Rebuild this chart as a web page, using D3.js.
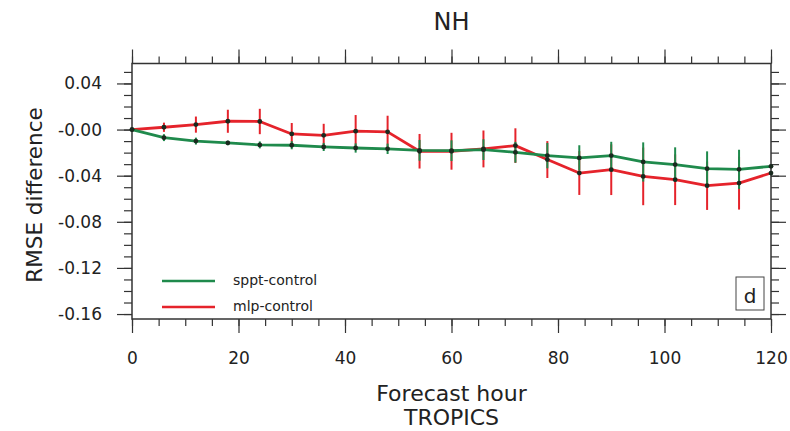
<!DOCTYPE html>
<html>
<head>
<meta charset="utf-8">
<script src="https://cdn.jsdelivr.net/npm/d3@7"></script>
<style>
  body { margin: 0; background: #fff; }
  text { font-family: "DejaVu Sans", "Liberation Sans", Arial, sans-serif; fill: #222; }
</style>
</head>
<body>
<div id="chart"></div>
<script>
// Forecast hours
const hours = [0, 6, 12, 18, 24, 30, 36, 42, 48, 54, 60, 66, 72, 78, 84, 90, 96, 102, 108, 114, 120];

// sppt-control
const spptVals = [0, -0.007, -0.010, -0.0116, -0.0133, -0.0136, -0.0151, -0.016, -0.0167, -0.018, -0.0183,
    -0.0174, -0.0197, -0.0226, -0.0246, -0.0226, -0.0281, -0.0304, -0.0339, -0.0345, -0.0319];
const spptErr = [0, 0.003, 0.003, 0.002, 0.003, 0.0035, 0.0035, 0.004, 0.0045, 0.009, 0.009,
    0.009, 0.009, 0.011, 0.011, 0.012, 0.017, 0.015, 0.015, 0.017, 0];

// mlp-control
const mlpVals = [0, 0.002, 0.0043, 0.0072, 0.007, -0.0038, -0.005, -0.0014, -0.002, -0.0188, -0.0188,
    -0.0168, -0.0139, -0.026, -0.0377, -0.0348, -0.0406, -0.0435, -0.0487, -0.0464, -0.0377];
const mlpErr = [0, 0.004, 0.007, 0.010, 0.011, 0.0095, 0.010, 0.014, 0.014, 0.015, 0.016,
    0.016, 0.015, 0.016, 0.019, 0.022, 0.025, 0.022, 0.021, 0.023, 0];

// Ticks
const xTicks = [0, 20, 40, 60, 80, 100, 120];
const yTicks = [0.04, 0, -0.04, -0.08, -0.12, -0.16];
const yTickLabels = ['0.04', '-0.00', '-0.04', '-0.08', '-0.12', '-0.16'];

const seriesNames = ['sppt-control', 'mlp-control'];
const seriesColors = ['#1f8a4c', '#e5232b'];

// Dimensions
const dimensions = {
    width: 790,
    height: 431,
    left: 132,
    right: 771,
    top: 63.5,
    bottom: 319
};

const xScale = d3.scaleLinear().domain([0, 120]).range([dimensions.left, dimensions.right]);
const yScale = d3.scaleLinear().domain([-0.1643, 0.0573]).range([dimensions.bottom, dimensions.top]);

const svg = d3.select('#chart')
    .append('svg')
    .attr('width', dimensions.width)
    .attr('height', dimensions.height);

const minorX = d3.range(0, 121, 5);
const minorY = d3.range(-16, 6).map(d => d / 100);

// Axes: ticks point outward on all four sides
function tickAxis(axisFn, scale, values, size, pad, fmt) {
    return axisFn(scale).tickValues(values).tickSize(size).tickPadding(pad).tickFormat(fmt);
}

const axes = svg.append('g').attr('class', 'axes');

// minor ticks
axes.append('g').attr('transform', `translate(0,${dimensions.bottom})`)
    .call(tickAxis(d3.axisBottom, xScale, minorX, 7, 0, () => ''));
axes.append('g').attr('transform', `translate(0,${dimensions.top})`)
    .call(tickAxis(d3.axisTop, xScale, minorX, 7, 0, () => ''));
axes.append('g').attr('transform', `translate(${dimensions.left},0)`)
    .call(tickAxis(d3.axisLeft, yScale, minorY, 8, 0, () => ''));
axes.append('g').attr('transform', `translate(${dimensions.right},0)`)
    .call(tickAxis(d3.axisRight, yScale, minorY, 8, 0, () => ''));

// major ticks
axes.append('g').attr('class', 'x-major').attr('transform', `translate(0,${dimensions.bottom})`)
    .call(tickAxis(d3.axisBottom, xScale, xTicks, 14, 19, d => d));
axes.append('g').attr('transform', `translate(0,${dimensions.top})`)
    .call(tickAxis(d3.axisTop, xScale, xTicks, 14, 0, () => ''));
axes.append('g').attr('class', 'y-major').attr('transform', `translate(${dimensions.left},0)`)
    .call(tickAxis(d3.axisLeft, yScale, yTicks, 15, 15, (d, i) => yTickLabels[i]));
axes.append('g').attr('transform', `translate(${dimensions.right},0)`)
    .call(tickAxis(d3.axisRight, yScale, yTicks, 15, 0, () => ''));

axes.selectAll('.domain').remove();
axes.selectAll('line').attr('stroke', '#333').attr('stroke-width', 1.2);
axes.selectAll('text').attr('font-size', 17).attr('fill', '#222');

// frame
svg.append('rect')
    .attr('x', dimensions.left)
    .attr('y', dimensions.top)
    .attr('width', dimensions.right - dimensions.left)
    .attr('height', dimensions.bottom - dimensions.top)
    .attr('fill', 'none')
    .attr('stroke', '#333')
    .attr('stroke-width', 1.5);

// Series
const series = [
    { name: seriesNames[1], color: seriesColors[1], vals: mlpVals, err: mlpErr },
    { name: seriesNames[0], color: seriesColors[0], vals: spptVals, err: spptErr }
];

const line = d3.line()
    .x(d => xScale(d.h))
    .y(d => yScale(d.v));

series.forEach(s => {
    const pts = hours.map((h, i) => ({ h, v: s.vals[i], e: s.err[i] }));
    const g = svg.append('g');
    g.selectAll('line.err')
        .data(pts.filter(d => d.e > 0))
        .join('line')
        .attr('class', 'err')
        .attr('x1', d => xScale(d.h))
        .attr('x2', d => xScale(d.h))
        .attr('y1', d => yScale(d.v + d.e))
        .attr('y2', d => yScale(d.v - d.e))
        .attr('stroke', s.color)
        .attr('stroke-width', 2);
    g.append('path')
        .datum(pts)
        .attr('d', line)
        .attr('fill', 'none')
        .attr('stroke', s.color)
        .attr('stroke-width', 2.8)
        .attr('stroke-linejoin', 'round');
    s.pts = pts;
});

series.forEach(s => {
    svg.append('g').selectAll('circle')
        .data(s.pts)
        .join('circle')
        .attr('cx', d => xScale(d.h))
        .attr('cy', d => yScale(d.v))
        .attr('r', 2.4)
        .attr('fill', '#1a2a1f');
});

// Legend
const legend = svg.append('g');
seriesNames.forEach((name, i) => {
    const y = 281 + i * 26;
    legend.append('line')
        .attr('x1', 162).attr('x2', 215)
        .attr('y1', y).attr('y2', y)
        .attr('stroke', seriesColors[i])
        .attr('stroke-width', 2.5);
    legend.append('text')
        .attr('x', 233).attr('y', y + 4)
        .attr('font-size', 14)
        .text(name);
});

// panel label
svg.append('rect')
    .attr('x', 736).attr('y', 277)
    .attr('width', 28).attr('height', 33)
    .attr('fill', '#fff')
    .attr('stroke', '#444')
    .attr('stroke-width', 1);
svg.append('text')
    .attr('x', 750).attr('y', 303)
    .attr('text-anchor', 'middle')
    .attr('font-size', 20)
    .text('d');

// Titles
svg.append('text')
    .attr('x', (dimensions.left + dimensions.right) / 2)
    .attr('y', 30)
    .attr('text-anchor', 'middle')
    .attr('font-size', 24)
    .text('NH');

svg.append('text')
    .attr('transform', `translate(42,195) rotate(-90)`)
    .attr('text-anchor', 'middle')
    .attr('font-size', 21.5)
    .text('RMSE difference');

svg.append('text')
    .attr('x', (dimensions.left + dimensions.right) / 2)
    .attr('y', 401)
    .attr('text-anchor', 'middle')
    .attr('font-size', 22)
    .text('Forecast hour');

svg.append('text')
    .attr('x', (dimensions.left + dimensions.right) / 2)
    .attr('y', 425)
    .attr('text-anchor', 'middle')
    .attr('font-size', 22)
    .text('TROPICS');
</script>
</body>
</html>
